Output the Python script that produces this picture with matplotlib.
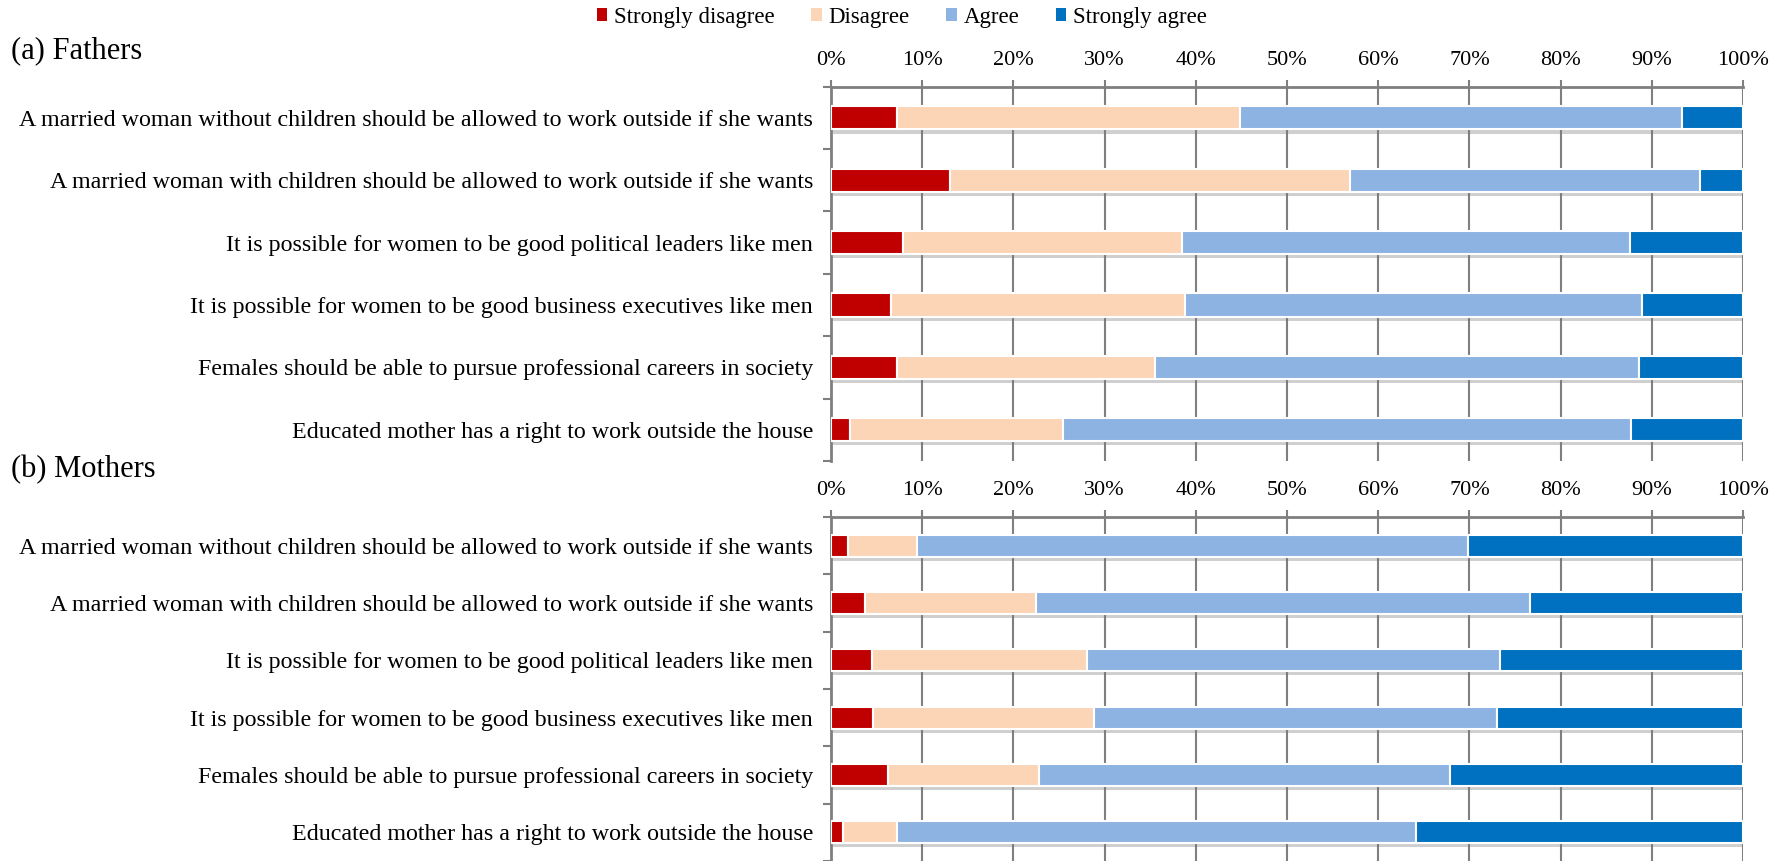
import matplotlib
matplotlib.use("Agg")
import matplotlib.pyplot as plt
import matplotlib.patheffects as pe
from matplotlib.patches import Patch
from matplotlib.ticker import FixedLocator, PercentFormatter
import numpy as np

plt.rcParams['font.family'] = ['Liberation Serif', 'DejaVu Serif']

# statements, top to bottom
statements = [
    "A married woman without children should be allowed to work outside if she wants",
    "A married woman with children should be allowed to work outside if she wants",
    "It is possible for women to be good political leaders like men",
    "It is possible for women to be good business executives like men",
    "Females should be able to pursue professional careers in society",
    "Educated mother has a right to work outside the house",
]
levels = ["Strongly disagree", "Disagree", "Agree", "Strongly agree"]
colors = ["#C00000", "#FBD5B5", "#8DB3E2", "#0070C0"]

# percentages (same order as statements)
fathers_sd = [7.2, 13.0, 7.9, 6.6, 7.2, 2.1]
fathers_d = [37.6, 43.9, 30.6, 32.2, 28.3, 23.3]
fathers_a = [48.5, 38.4, 49.1, 50.1, 53.1, 62.3]
fathers_sa = [6.7, 4.7, 12.4, 11.1, 11.4, 12.3]

mothers_sd = [1.9, 3.7, 4.5, 4.6, 6.3, 1.3]
mothers_d = [7.5, 18.8, 23.6, 24.2, 16.5, 5.9]
mothers_a = [60.4, 54.1, 45.3, 44.2, 45.1, 56.9]
mothers_sa = [30.2, 23.4, 26.6, 27.0, 32.1, 35.9]

fathers = [fathers_sd, fathers_d, fathers_a, fathers_sa]
mothers = [mothers_sd, mothers_d, mothers_a, mothers_sa]

fig = plt.figure(figsize=(17.86, 8.61), dpi=100)
ax1 = fig.add_axes([0.4653, 0.4646, 0.5106, 0.4347])
ax2 = fig.add_axes([0.4653, 0.0, 0.5106, 0.3995])

grey = "#7F7F7F"
shadow = [pe.SimplePatchShadow(offset=(1.5, -3), shadow_rgbFace="#777777", alpha=0.35), pe.Normal()]


def draw(ax, data, bar_h):
    y = np.arange(len(statements))
    left = np.zeros(len(statements))
    for vals, c in zip(data, colors):
        vals = np.array(vals)
        bars = ax.barh(y, vals, left=left, height=bar_h, color=c, edgecolor="white",
                       linewidth=1.5, zorder=3)
        for b in bars:
            b.set_path_effects(shadow)
        left += vals
    ax.set_xlim(0, 100)
    ax.set_ylim(len(statements) - 0.5, -0.5)
    ax.set_yticks(y)
    ax.set_yticklabels(statements, fontsize=17.3)
    ax.yaxis.set_minor_locator(FixedLocator(np.arange(-0.5, len(statements), 1.0)))
    ax.tick_params(axis='y', which='major', length=0, pad=13)
    ax.tick_params(axis='y', which='minor', length=6, width=1.5, color=grey)
    ax.xaxis.tick_top()
    ax.set_xticks(np.arange(0, 101, 10))
    ax.xaxis.set_major_formatter(PercentFormatter(decimals=0))
    ax.tick_params(axis='x', which='major', length=5, width=1.5, color=grey, labelsize=16, pad=7)
    ax.grid(axis='x', color=grey, linewidth=1.5, zorder=0)
    ax.set_axisbelow(True)
    for s in ["right", "bottom"]:
        ax.spines[s].set_visible(False)
    for s in ["top", "left"]:
        ax.spines[s].set_color(grey)
        ax.spines[s].set_linewidth(2)


draw(ax1, fathers, 0.37)
draw(ax2, mothers, 0.38)

fig.text(0.006, 0.941, "(a) Fathers", fontsize=22, va="center", ha="left")
fig.text(0.006, 0.455, "(b) Mothers", fontsize=22, va="center", ha="left")

handles = [Patch(facecolor=c, edgecolor="none") for c in colors]
fig.legend(handles, levels, loc="center", bbox_to_anchor=(0.505, 0.980), ncol=4, frameon=False,
           fontsize=16.5, handlelength=0.45, handleheight=0.45, handletextpad=0.3, columnspacing=1.6)

fig.savefig("out.png", dpi=100)
